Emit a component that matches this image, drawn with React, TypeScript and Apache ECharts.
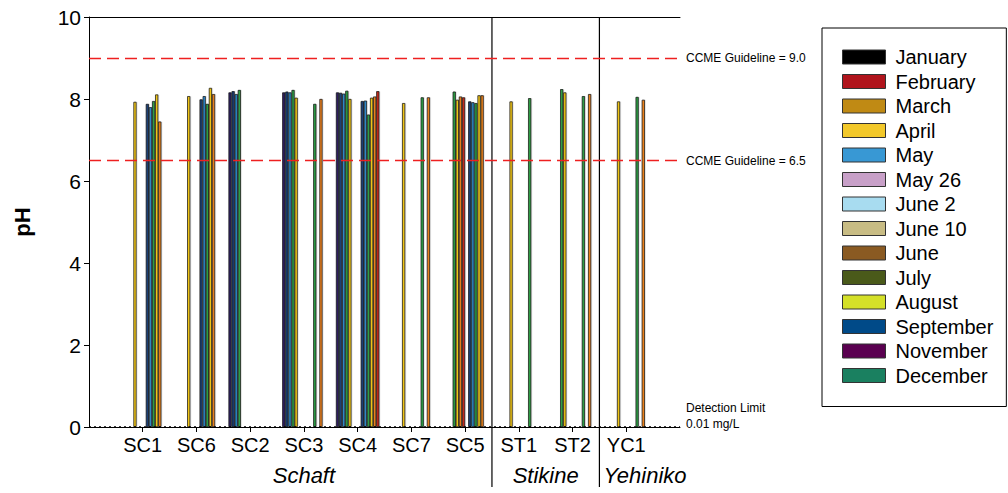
import React, { useEffect, useRef } from 'react';
import * as echarts from 'echarts';

// Sampling sites along the x axis, grouped by watershed
const sites = ['SC1', 'SC6', 'SC2', 'SC3', 'SC4', 'SC7', 'SC5', 'ST1', 'ST2', 'YC1'];
const watersheds = [
  { name: 'Schaft', first: 'SC1', last: 'SC5' },
  { name: 'Stikine', first: 'ST1', last: 'ST2' },
  { name: 'Yehiniko', first: 'YC1', last: 'YC1' },
];

// Sampling events (legend order) and their legend swatch colours
const months = ['January', 'February', 'March', 'April', 'May', 'May 26', 'June 2', 'June 10', 'June', 'July', 'August', 'September', 'November', 'December'];
const monthColors = ['#000000', '#b0141c', '#c08a14', '#f2c82a', '#3898d4', '#c8a0c8', '#a8dcf0', '#c8bc84', '#8a5a22', '#4a5a1a', '#d4e028', '#004a88', '#5a0050', '#1a8060'];

// Bar fill colours cycle through this palette by event slot
const barPalette = ['#2e1f5e', '#1c3f75', '#2f86c6', '#2e9c45', '#efc419', '#e8801e', '#c42a1c'];

// pH per site (SC1, SC6, SC2, SC3, SC4, SC7, SC5, ST1, ST2, YC1)
const N = null;
const phJanuary = [N, N, 8.16, 8.16, 8.16, N, N, N, N, N];
const phFebruary = [N, N, 8.19, 8.18, 8.15, N, N, N, N, N];
const phMarch = [N, N, 8.12, 8.16, 8.13, N, N, N, N, N];
const phApril = [N, N, 8.22, 8.22, 8.2, N, 8.18, N, 8.24, N];
const phMay = [7.93, 8.07, N, 8.03, 8.0, 7.9, 7.98, 7.94, 8.16, 7.94];
const phMay26 = [N, N, N, N, N, N, 8.06, N, N, N];
const phJune2 = [N, N, N, N, N, N, 8.04, N, N, N];
const phJune10 = [N, N, N, N, N, N, N, N, N, N];
const phJune = [7.88, 7.99, N, N, 7.95, N, 7.94, N, N, N];
const phJuly = [7.8, 8.07, N, N, 7.96, N, 7.92, N, N, N];
const phAugust = [7.95, 7.88, N, 7.88, 7.62, 8.04, 7.9, 8.02, 8.07, 8.05];
const phSeptember = [8.11, 8.27, N, N, 8.03, N, 8.09, N, N, N];
const phNovember = [7.45, 8.12, N, 8.0, 8.06, 8.04, 8.09, N, 8.12, 7.98];
const phDecember = [N, N, N, N, 8.19, N, N, N, N, N];
const phByMonth = [phJanuary, phFebruary, phMarch, phApril, phMay, phMay26, phJune2, phJune10, phJune, phJuly, phAugust, phSeptember, phNovember, phDecember];

// Reference lines
const guidelineHigh = 9.0;
const guidelineLow = 6.5;
const detectionLine = 0;
const detectionText = 'Detection Limit\n0.01 mg/L';
const yTicks = [0, 2, 4, 6, 8, 10];

const FONT = '"Liberation Sans", Arial, sans-serif';

// Empty categories at both ends leave a half-band margin inside the axis
const axisCategories = ['', ...sites, ''];

export default function App() {
  const ref = useRef<HTMLDivElement>(null);

  useEffect(() => {
    const el = ref.current;
    if (!el) return;
    const chart = echarts.init(el, null, { renderer: 'svg' });

    const series: any[] = months.map((m, i) => ({
      name: m,
      type: 'bar',
      xAxisIndex: 0,
      yAxisIndex: 0,
      barWidth: 3.1,
      barGap: '0%',
      data: [null, ...phByMonth[i], null],
      itemStyle: {
        color: barPalette[i % barPalette.length],
        borderColor: '#111',
        borderWidth: 0.7,
        shadowColor: 'rgba(0,0,0,0.22)',
        shadowBlur: 1.5,
        shadowOffsetX: 0.5,
      },
    }));

    const refLabel = { color: '#000', fontSize: 12, fontFamily: FONT, position: 'end', distance: 6 };
    series[0].markLine = {
      silent: true,
      symbol: 'none',
      animation: false,
      data: [
        {
          yAxis: guidelineHigh,
          lineStyle: { color: '#ee2020', width: 1.3, type: [12, 6] },
          label: { ...refLabel, formatter: 'CCME Guideline = ' + guidelineHigh.toFixed(1) },
        },
        {
          yAxis: guidelineLow,
          lineStyle: { color: '#ee2020', width: 1.3, type: [12, 6] },
          label: { ...refLabel, formatter: 'CCME Guideline = ' + guidelineLow.toFixed(1) },
        },
        {
          yAxis: detectionLine,
          lineStyle: { color: '#000', width: 1.5, type: [2, 3] },
          label: { show: false },
        },
      ],
    };

    chart.setOption({
      animation: false,
      backgroundColor: '#fff',
      textStyle: { fontFamily: FONT },
      grid: { left: 89, right: 328, top: 17, bottom: 66 },
      legend: {
        orient: 'vertical',
        left: 822,
        top: 28,
        selectedMode: false,
        borderColor: '#000',
        borderWidth: 1,
        padding: [19, 13, 21, 20],
        itemWidth: 43,
        itemHeight: 14,
        itemGap: 4.5,
        textStyle: { fontSize: 20, color: '#000', fontFamily: FONT, lineHeight: 14, padding: [0, 0, 0, 5] },
        data: months.map((m, i) => ({
          name: m,
          icon: 'rect',
          itemStyle: { color: monthColors[i], borderColor: '#333', borderWidth: 1, shadowBlur: 0, shadowColor: 'transparent' },
        })),
      },
      xAxis: [
        {
          type: 'category',
          data: axisCategories,
          boundaryGap: false,
          axisLine: { lineStyle: { color: '#000', width: 1 } },
          axisTick: {
            show: true,
            length: 5,
            inside: false,
            interval: (_i: number, v: string) => v !== '',
            lineStyle: { color: '#000' },
          },
          axisLabel: { interval: 0, color: '#000', fontSize: 20, fontFamily: FONT, margin: 8 },
          splitLine: { show: false },
        },
        {
          type: 'category',
          data: axisCategories,
          boundaryGap: false,
          position: 'top',
          axisLine: { show: true, lineStyle: { color: '#000', width: 1 } },
          axisTick: { show: false },
          axisLabel: { show: false },
          splitLine: { show: false },
        },
      ],
      yAxis: {
        type: 'value',
        min: yTicks[0],
        max: yTicks[yTicks.length - 1],
        interval: 2,
        name: 'pH',
        nameLocation: 'middle',
        nameGap: 56,
        nameTextStyle: { fontSize: 22, fontWeight: 'bold', color: '#000', fontFamily: FONT },
        axisLine: { show: true, lineStyle: { color: '#000', width: 1 } },
        axisTick: { show: true, length: 5, lineStyle: { color: '#000' } },
        axisLabel: { color: '#000', fontSize: 21, fontFamily: FONT, margin: 8 },
        splitLine: { show: false },
      },
      series,
    });

    // Watershed separators, group titles and the detection-limit note
    const xAt = (idx: number) => chart.convertToPixel({ xAxisIndex: 0 }, idx) as number;
    const xOf = (s: string) => xAt(axisCategories.indexOf(s));
    const yTop = chart.convertToPixel({ yAxisIndex: 0 }, yTicks[yTicks.length - 1]) as number;
    const yBase = chart.convertToPixel({ yAxisIndex: 0 }, yTicks[0]) as number;
    const plotLeft = xAt(0);
    const plotRight = xAt(axisCategories.length - 1);

    const ctx = document.createElement('canvas').getContext('2d');
    const groupFont = `italic 22px ${FONT}`;
    const measure = (t: string) => {
      if (!ctx) return t.length * 11;
      ctx.font = groupFont;
      return ctx.measureText(t).width;
    };

    const graphics: any[] = [];
    watersheds.forEach((w, gi) => {
      const left = gi === 0 ? plotLeft : (xOf(watersheds[gi - 1].last) + xOf(w.first)) / 2;
      if (gi > 0) {
        graphics.push({
          type: 'line',
          silent: true,
          shape: { x1: left, y1: yTop, x2: left, y2: yBase + 60 },
          style: { stroke: '#000', lineWidth: 1.2 },
        });
      }
      const center = (xOf(w.first) + xOf(w.last)) / 2;
      const half = measure(w.name) / 2;
      const cx = Math.max(center, left + 4 + half);
      graphics.push({
        type: 'text',
        silent: true,
        x: cx,
        y: yBase + 48,
        style: {
          text: w.name,
          fontSize: 22,
          fontStyle: 'italic',
          fontFamily: FONT,
          fill: '#000',
          align: 'center',
          verticalAlign: 'middle',
        },
      });
    });
    graphics.push({
      type: 'text',
      silent: true,
      x: plotRight + 6,
      y: yBase - 11,
      style: {
        text: detectionText,
        fontSize: 12,
        lineHeight: 16,
        fontFamily: FONT,
        fill: '#000',
        align: 'left',
        verticalAlign: 'middle',
      },
    });
    chart.setOption({ graphic: graphics });

    return () => chart.dispose();
  }, []);

  return (
    <div
      ref={ref}
      style={{ position: 'fixed', left: 0, top: 0, width: 1008, height: 493, background: '#fff' }}
    />
  );
}
